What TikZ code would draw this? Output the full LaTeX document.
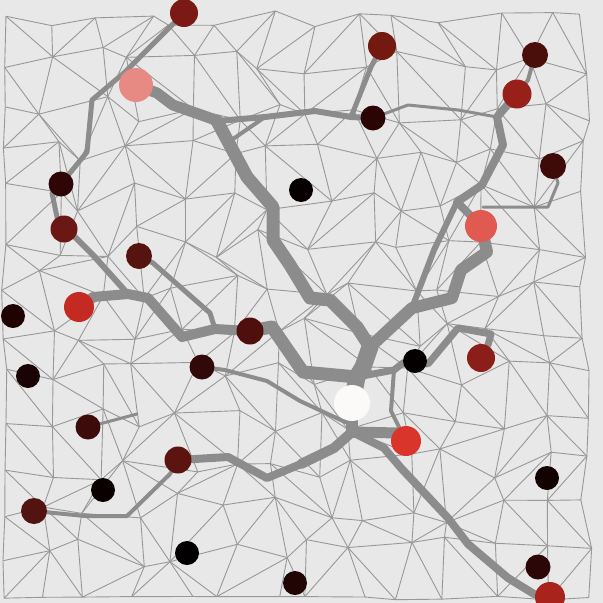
\documentclass[tikz,border=0pt]{standalone}
\pgfdeclarelayer{bg}
\pgfsetlayers{bg,main}
\definecolor{bgc}{HTML}{E8E8E8}
\definecolor{meshc}{HTML}{989898}
\definecolor{treec}{HTML}{8C8C8C}
\definecolor{k1}{HTML}{7B1A15}
\definecolor{k2}{HTML}{E88A84}
\definecolor{k3}{HTML}{74190F}
\definecolor{k4}{HTML}{4A0E0B}
\definecolor{k5}{HTML}{97211A}
\definecolor{k6}{HTML}{2A0504}
\definecolor{k7}{HTML}{3E0B09}
\definecolor{k8}{HTML}{060000}
\definecolor{k9}{HTML}{2D0605}
\definecolor{k10}{HTML}{6B1814}
\definecolor{k11}{HTML}{E05A52}
\definecolor{k12}{HTML}{561310}
\definecolor{k13}{HTML}{C52A22}
\definecolor{k14}{HTML}{1F0303}
\definecolor{k15}{HTML}{4F100D}
\definecolor{k16}{HTML}{050000}
\definecolor{k17}{HTML}{8B1E19}
\definecolor{k18}{HTML}{330808}
\definecolor{k19}{HTML}{1A0303}
\definecolor{k20}{HTML}{FBFAF8}
\definecolor{k21}{HTML}{D9352B}
\definecolor{k22}{HTML}{3C0B0A}
\definecolor{k23}{HTML}{5C1410}
\definecolor{k24}{HTML}{0B0000}
\definecolor{k25}{HTML}{521311}
\definecolor{k26}{HTML}{130202}
\definecolor{k27}{HTML}{020000}
\definecolor{k28}{HTML}{210505}
\definecolor{k29}{HTML}{2B0807}
\definecolor{k30}{HTML}{A8231B}
\tikzset{
  mesh/.style={draw=meshc, line width=0.9pt},
  tree/.style={draw=treec, line join=round, line cap=round, line width=#1pt},
  spot/.style={circle, inner sep=0pt, minimum size=#1pt, draw=none}
}
\begin{document}
\begin{tikzpicture}[x=1pt,y=-1pt]
\useasboundingbox (0,0) rectangle (603,603);

% dots
\node[spot=28, fill=k1]  (n1)  at (184,13) {};
\node[spot=34, fill=k2]  (n2)  at (136,85) {};
\node[spot=28, fill=k3]  (n3)  at (382,46) {};
\node[spot=26, fill=k4]  (n4)  at (535,55) {};
\node[spot=29, fill=k5]  (n5)  at (517,94) {};
\node[spot=25, fill=k6]  (n6)  at (373,118) {};
\node[spot=26, fill=k7]  (n7)  at (553,166) {};
\node[spot=24, fill=k8]  (n8)  at (301,190) {};
\node[spot=25, fill=k9]  (n9)  at (61,184) {};
\node[spot=27, fill=k10] (n10) at (64,229) {};
\node[spot=32, fill=k11] (n11) at (481,226) {};
\node[spot=26, fill=k12] (n12) at (139,256) {};
\node[spot=30, fill=k13] (n13) at (79,307) {};
\node[spot=24, fill=k14] (n14) at (13,316) {};
\node[spot=27, fill=k15] (n15) at (250,331) {};
\node[spot=24, fill=k16] (n16) at (415,361) {};
\node[spot=28, fill=k17] (n17) at (481,358) {};
\node[spot=25, fill=k18] (n18) at (202,367) {};
\node[spot=24, fill=k19] (n19) at (28,376) {};
\node[spot=36, fill=k20] (n20) at (352,403) {};
\node[spot=30, fill=k21] (n21) at (406,441) {};
\node[spot=25, fill=k22] (n22) at (88,427) {};
\node[spot=27, fill=k23] (n23) at (178,460) {};
\node[spot=24, fill=k24] (n24) at (103,490) {};
\node[spot=26, fill=k25] (n25) at (34,511) {};
\node[spot=24, fill=k26] (n26) at (547,478) {};
\node[spot=24, fill=k27] (n27) at (187,553) {};
\node[spot=24, fill=k28] (n28) at (295,583) {};
\node[spot=25, fill=k29] (n29) at (538,567) {};
\node[spot=30, fill=k30] (n30) at (550,597) {};

% junctions
\coordinate (jA) at (128,294);
\coordinate (jB) at (148,298);
\coordinate (jC) at (215,329);
\coordinate (jR) at (357,377);
\coordinate (jS) at (352,432);
\coordinate (jP) at (217,121);
\coordinate (jU) at (370,347);
\coordinate (jQ) at (457,202);
\coordinate (jH) at (351,117);
\coordinate (jK) at (497,117);
\coordinate (jT) at (412,308);
\coordinate (jV) at (394,370);
\coordinate (jW) at (301,464);
\coordinate (jX) at (265,117);
\coordinate (jY) at (233,139);

\begin{pgfonlayer}{bg}
\fill[bgc] (0,0) rectangle (603,603);
% ---- mesh ----
\pgfmathsetseed{11}
\foreach \i in {0,...,13}{
  \foreach \j in {0,...,13}{
    \pgfmathsetmacro\px{(\i==0) ? 4+3*rand : ((\i==13) ? 585+7*rand : 4+\i*44.7+16*rand)}
    \pgfmathsetmacro\py{(\j==0) ? 19+9*rand : ((\j==13) ? 598+2*rand : 19+\j*44.5+16*rand)}
    \coordinate (p-\i-\j) at (\px,\py);
  }
}
\foreach \i in {0,...,13}{
  \foreach \j in {0,...,13}{
    \pgfmathtruncatemacro\ii{\i+1}
    \pgfmathtruncatemacro\jj{\j+1}
    \ifnum\i<13 \draw[mesh] (p-\i-\j) -- (p-\ii-\j); \fi
    \ifnum\j<13 \draw[mesh] (p-\i-\j) -- (p-\i-\jj); \fi
    \ifnum\i<13 \ifnum\j<13
      \pgfmathrandominteger{\dd}{0}{1}
      \ifnum\dd=0
        \draw[mesh] (p-\i-\j) -- (p-\ii-\jj);
      \else
        \draw[mesh] (p-\ii-\j) -- (p-\i-\jj);
      \fi
    \fi\fi
  }
}

% ---- tree ----
\draw[tree=5] (n1.center) -- (125,72) -- (92,100) -- (87,152) -- (n9.center);
\draw[tree=5] (n9.center) -- (52,193) -- (57,217) -- (n10.center);
\draw[tree=6] (n10.center) -- (75,237) -- (93,255) -- (jA);
\draw[tree=10] (n13.center) -- (93,297) -- (jA) -- (jB);
\draw[tree=10] (jB) -- (182,337) -- (jC) -- (n15.center);
\draw[tree=5] (n12.center) -- (153,263) -- (210,313) -- (jC);
\draw[tree=13] (n15.center) -- (272,327) -- (303,372) -- (jR);
\draw[tree=17] (jU) -- (363,367) -- (jR) -- (n20.center);
\draw[tree=7] (jR) -- (jV) -- (403,363) -- (n16.center);
\draw[tree=4] (n18.center) -- (225,370) -- (267,381) -- (300,401) -- (345,422) -- (n20.center);
\draw[tree=12] (n20.center) -- (jS);
\draw[tree=11] (jS) -- (398,433);
\draw[tree=8] (jS) -- (384,448) -- (401,468) -- (448,518) -- (468,544) -- (508,578) -- (534,594) -- (n30.center);
\draw[tree=10] (jS) -- (334,448) -- (jW);
\draw[tree=8] (jW) -- (267,478) -- (228,457) -- (n23.center);
\draw[tree=4] (n23.center) -- (170,474) -- (127,516) -- (85,516) -- (n25.center);
\draw[tree=3] (n22.center) -- (137,414);
\draw[tree=11] (n2.center) -- (157,93) -- (173,105) -- (210,118) -- (jP);
\draw[tree=13] (jP) -- (247,177) -- (273,207) -- (273,240) -- (290,265) -- (310,298) -- (330,300) -- (357,327) -- (jU);
\draw[tree=12] (jU) -- (384,334) -- (jT) -- (452,298) -- (461,270) -- (487,252) -- (n11.center);
\draw[tree=6] (jQ) -- (434,250) -- (jT);
\draw[tree=8] (n5.center) -- (jK) -- (503,145) -- (482,185) -- (jQ) -- (n11.center);
\draw[tree=4] (n4.center) -- (528,80) -- (n5.center);
\draw[tree=3] (n7.center) -- (558,183) -- (548,207) -- (483,207);
\draw[tree=3] (n6.center) -- (408,105) -- (458,110) -- (jK);
\draw[tree=5] (n3.center) -- (371,67) -- (jH);
\draw[tree=6] (jP) -- (jX) -- (315,111) -- (jH) -- (n6.center);
\draw[tree=4] (jY) -- (jX);
\draw[tree=4] (n21.center) -- (391,411) -- (jV);
\draw[tree=7] (n16.center) -- (428,364) -- (458,328) -- (491,334) -- (488,345);
\end{pgfonlayer}
\end{tikzpicture}
\end{document}
